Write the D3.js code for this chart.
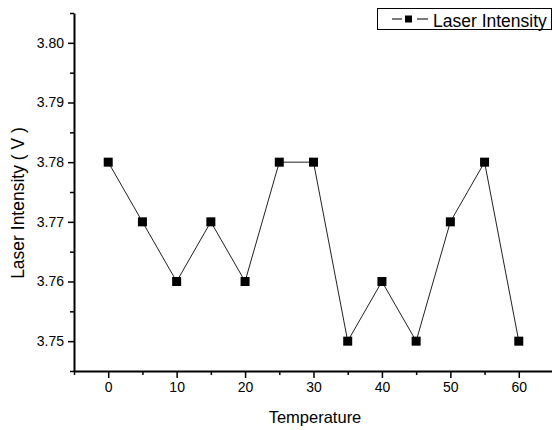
<!DOCTYPE html>
<html>
<head>
<meta charset="utf-8">
<script src="https://cdn.jsdelivr.net/npm/d3@7"></script>
<style>
  body { margin: 0; background: #fff; }
  text { font-family: "Liberation Sans", Arial, sans-serif; fill: #000; }
</style>
</head>
<body>
<div id="container"></div>
<script>
const temperature = [0, 5, 10, 15, 20, 25, 30, 35, 40, 45, 50, 55, 60];
const intensity = [3.78, 3.77, 3.76, 3.77, 3.76, 3.78, 3.78, 3.75, 3.76, 3.75, 3.77, 3.78, 3.75];
const xTicks = [0, 10, 20, 30, 40, 50, 60];
const xMinor = [-5, 5, 15, 25, 35, 45, 55, 65];
const yTicks = [3.75, 3.76, 3.77, 3.78, 3.79, 3.80];
const yMinor = [3.745, 3.755, 3.765, 3.775, 3.785, 3.795, 3.805];
const seriesName = "Laser Intensity";

const w = 552, h = 430;
const padLeft = 74, padRight = 553, padTop = 13, padBottom = 371;

const svg = d3.select("#container").append("svg")
  .attr("width", w).attr("height", h);

const xScale = d3.scaleLinear().domain([-5, 65]).range([padLeft, padRight]);
const yScale = d3.scaleLinear().domain([3.745, 3.805]).range([padBottom, padTop]);

// minor ticks
svg.append("g")
  .attr("transform", "translate(0," + padBottom + ")")
  .call(d3.axisBottom(xScale).tickValues(xMinor).tickSize(4).tickFormat(""))
  .call(g => g.select(".domain").remove())
  .selectAll("line").attr("stroke-width", 1.5);
svg.append("g")
  .attr("transform", "translate(" + padLeft + ",0)")
  .call(d3.axisLeft(yScale).tickValues(yMinor).tickSize(4).tickFormat(""))
  .call(g => g.select(".domain").remove())
  .selectAll("line").attr("stroke-width", 1.5);

const xAxis = svg.append("g")
  .attr("transform", "translate(0," + padBottom + ")")
  .call(d3.axisBottom(xScale).tickValues(xTicks).tickSize(7).tickSizeOuter(0).tickPadding(4).tickFormat(d3.format("d")));
xAxis.select(".domain").attr("stroke-width", 2);
xAxis.selectAll("line").attr("stroke-width", 1.5);
xAxis.selectAll("text").style("font-size", "14px").attr("font-family", null);

const yAxis = svg.append("g")
  .attr("transform", "translate(" + padLeft + ",0)")
  .call(d3.axisLeft(yScale).tickValues(yTicks).tickSize(6).tickSizeOuter(0).tickPadding(4).tickFormat(d3.format(".2f")));
yAxis.select(".domain").attr("stroke-width", 2);
yAxis.selectAll("line").attr("stroke-width", 1.5);
yAxis.selectAll("text").style("font-size", "14px").attr("font-family", null);

// axis titles
svg.append("text")
  .attr("x", 315).attr("y", 423)
  .attr("text-anchor", "middle")
  .style("font-size", "16.5px")
  .text("Temperature");
svg.append("text")
  .attr("transform", "translate(24," + 203 + ") rotate(-90)")
  .attr("text-anchor", "middle")
  .style("font-size", "17.5px")
  .text("Laser Intensity ( V )");

// series
const pts = temperature.map((t, i) => [t, intensity[i]]);
svg.append("path")
  .datum(pts)
  .attr("fill", "none")
  .attr("stroke", "#222")
  .attr("stroke-width", 1)
  .attr("d", d3.line().x(d => xScale(d[0])).y(d => yScale(d[1])));

svg.selectAll("rect.pt")
  .data(pts)
  .enter()
  .append("rect")
  .attr("class", "pt")
  .attr("x", d => xScale(d[0]) - 4.5)
  .attr("y", d => yScale(d[1]) - 4.5)
  .attr("width", 9)
  .attr("height", 9)
  .attr("fill", "#000");

// legend
const lg = svg.append("g");
lg.append("rect")
  .attr("x", 377.5).attr("y", 8.5).attr("width", 174).attr("height", 21)
  .attr("fill", "#fff").attr("stroke", "#000").attr("stroke-width", 1);
lg.append("line")
  .attr("x1", 392).attr("x2", 402).attr("y1", 19).attr("y2", 19)
  .attr("stroke", "#222").attr("stroke-width", 1.2);
lg.append("line")
  .attr("x1", 417).attr("x2", 428).attr("y1", 19).attr("y2", 19)
  .attr("stroke", "#222").attr("stroke-width", 1.2);
lg.append("rect")
  .attr("x", 405).attr("y", 15.5).attr("width", 7).attr("height", 7)
  .attr("fill", "#000");
lg.append("text")
  .attr("x", 433).attr("y", 27)
  .style("font-size", "17.5px")
  .text(seriesName);
</script>
</body>
</html>
